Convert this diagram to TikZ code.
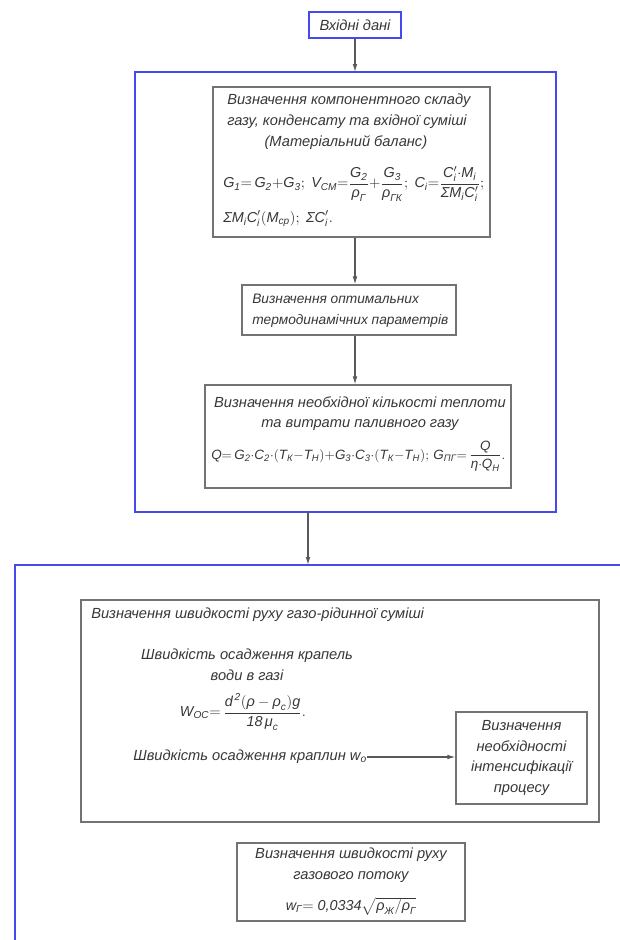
\documentclass[tikz,border=0pt]{standalone}
\usepackage{amsmath}
\usepackage{fontspec}
\setmainfont{Liberation Sans}
\usetikzlibrary{arrows.meta,positioning}
\definecolor{frameblue}{RGB}{72,72,240}
\definecolor{inkgray}{RGB}{55,55,55}
\newcommand{\vv}[1]{\textit{#1}}

\begin{document}
\begin{tikzpicture}[x=0.75pt,y=-0.75pt,
    frame/.style={draw=frameblue,line width=1.4pt},
    box/.style={draw=black!55,line width=0.9pt,inner sep=0pt},
    txt/.style={font=\itshape\fontsize{11}{15.5}\selectfont,text=inkgray,inner sep=0pt},
    eqn/.style={txt,font=\itshape\fontsize{10.8}{15}\selectfont},
    link/.style={draw=black!65,line width=0.8pt,-{Latex[length=6pt,width=3.5pt]}}]
    \useasboundingbox (0,0) rectangle (619,940);
    % frames
    \coordinate (f1nw) at (135,72);
    \coordinate (f1se) at (556,512);
    \coordinate (f1out) at (308,512);
    \coordinate (f2in) at (308,565);
    \coordinate (f2nw) at (15,565);
    \coordinate (f2sw) at (15,941);
    \coordinate (f2ne) at (620,565);
    \draw[frame] (f1nw) rectangle (f1se);
    \draw[frame] (f2sw) -- (f2nw) -- (f2ne);
    % input
    \node[box,txt,draw=frameblue,line width=1.2pt,minimum width=69pt,minimum height=19.5pt] (input) at (355,25) {Вхідні дані};
    % upper block
    \node[box,minimum width=207.75pt,minimum height=112.5pt] (compos) at (351.5,162) {};
    \node[txt,anchor=north west,align=left] (compostxt) at (227,94)
        {Визначення компонентного складу\\газу, конденсату та вхідної суміші\\\hspace*{28pt}(Матеріальний баланс)};
    \node[eqn,anchor=west] (composeq) at (223,184)
        {$\vv{G}_{\vv{1}}{=}\,\vv{G}_{\vv{2}}{+}\vv{G}_{\vv{3}};\ \vv{V}_{\text{СМ}}{=}\dfrac{\vv{G}_{\vv{2}}}{\vv{ρ}_{\text{Г}}}
         {+}\dfrac{\vv{G}_{\vv{3}}}{\vv{ρ}_{\text{ГК}}};\ \vv{C}_{\vv{i}}{=}\dfrac{\vv{C}_{\vv{i}}'{\cdot}\vv{M}_{\vv{i}}}{\vv{Σ}\vv{M}_{\vv{i}}\vv{C}_{\vv{i}}'};$};
    \node[eqn,anchor=west] (composeqb) at (223,219)
        {$\vv{Σ}\vv{M}_{\vv{i}}\vv{C}_{\vv{i}}'(\vv{M}_{\text{ср}});\ \vv{Σ}\vv{C}_{\vv{i}}'.$};
    \node[box,minimum width=160.5pt,minimum height=37.5pt] (params) at (349,310) {};
    \node[txt,font=\itshape\fontsize{10.3}{15.5}\selectfont,anchor=north west,align=left] (paramstxt) at (252,294)
        {Визначення оптимальних\\термодинамічних параметрів};
    \node[box,minimum width=229.5pt,minimum height=77.25pt] (heat) at (358,436.5) {};
    \node[txt,anchor=north,align=center] (heattxt) at (360,396)
        {Визначення необхідної кількості теплоти\\та витрати паливного газу};
    \node[eqn,font=\itshape\fontsize{10.1}{14}\selectfont,anchor=west] (heateq) at (211,456)
        {$\vv{Q}{=}\,\vv{G}_{\vv{2}}{\cdot}\vv{C}_{\vv{2}}{\cdot}(\vv{T}_{\text{К}}{-}\vv{T}_{\text{Н}}){+}\vv{G}_{\vv{3}}{\cdot}\vv{C}_{\vv{3}}{\cdot}(\vv{T}_{\text{К}}{-}\vv{T}_{\text{Н}});\,
         \vv{G}_{\text{ПГ}}{=}\,\dfrac{\vv{Q}}{\vv{η}{\cdot}\vv{Q}_{\text{Н}}}.$};
    % lower block
    \node[box,minimum width=388.5pt,minimum height=166.5pt] (speed) at (340,711) {};
    \node[txt,anchor=west] (speedtxt) at (91,615) {Визначення швидкості руху газо-рідинної суміші};
    \node[txt,align=center] (droptxt) at (247,665) {Швидкість осадження крапель\\води в газі};
    \node[eqn] (dropeq) at (243,712)
        {$\vv{W}_{\text{ОС}}{=}\,\dfrac{\vv{d}^{\,\vv{2}}(\vv{ρ}-\vv{ρ}_{\text{с}})\vv{g}}{\vv{18}\,\vv{μ}_{\text{с}}}.$};
    \node[txt,anchor=west] (wotxt) at (133,757) {Швидкість осадження краплин $\vv{w}_{\text{о}}$};
    \node[box,txt,align=center,minimum width=98.25pt,minimum height=69pt] (intens) at (521.5,758)
        {Визначення\\необхідності\\інтенсифікації\\процесу};
    \node[box,minimum width=171pt,minimum height=58.5pt] (flow) at (351,882) {};
    \node[txt,align=center] (flowtxt) at (351,865) {Визначення швидкості руху\\газового потоку};
    \node[eqn] (floweq) at (351,906)
        {$\vv{w}_{\text{Г}}{=}\ \vv{0,0334}\sqrt{\vv{ρ}_{\text{Ж}}/\vv{ρ}_{\text{Г}}}$};
    % connectors
    \draw[link] (input.south) -- (input.south |- f1nw);
    \draw[link] (compos.south -| input) -- (params.north -| input);
    \draw[link] (params.south -| input) -- (heat.north -| input);
    \draw[link] (f1out) -- (f2in);
    \draw[link] (wotxt.east) -- (wotxt.east -| intens.west);
\end{tikzpicture}
\end{document}
